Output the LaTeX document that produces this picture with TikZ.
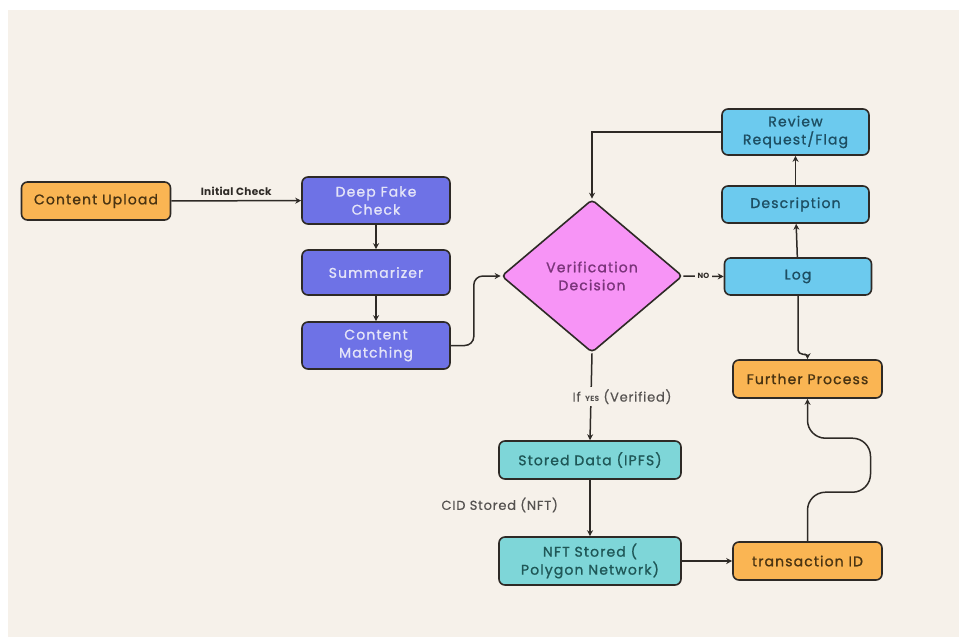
\documentclass[tikz,border=0pt]{standalone}
\usepackage{fontspec}
\setmainfont{Poppins}[LetterSpace=8, FakeBold=1.1]
\newfontfamily\lblfont{Poppins}[LetterSpace=6, FakeBold=0.4]
\newfontfamily\smallbold{Poppins Bold}[LetterSpace=3]
\usetikzlibrary{shapes.geometric,arrows.meta,calc}
\definecolor{bg}{HTML}{F6F1EA}
\definecolor{edge}{HTML}{2E2A26}
\definecolor{orfill}{HTML}{FAB553}
\definecolor{ortext}{HTML}{4A3412}
\definecolor{pufill}{HTML}{6E72E6}
\definecolor{putext}{HTML}{E4E4F8}
\definecolor{pkfill}{HTML}{F794F6}
\definecolor{pktext}{HTML}{7A347A}
\definecolor{blfill}{HTML}{6CCAEE}
\definecolor{bltext}{HTML}{1D4E62}
\definecolor{tefill}{HTML}{7ED6D8}
\definecolor{tetext}{HTML}{1F5757}
\definecolor{lbltext}{HTML}{555250}
\begin{document}
\begin{tikzpicture}[x=1pt,y=1pt,
  box/.style={draw=edge, line width=1.6pt, rounded corners=6pt, align=center, inner sep=0pt,
    font=\fontsize{14}{18}\selectfont},
  orangebox/.style={box, fill=orfill, text=ortext, minimum width=149pt, minimum height=38pt},
  purplebox/.style={box, fill=pufill, text=putext, minimum width=148pt},
  bluebox/.style={box, fill=blfill, text=bltext, minimum width=147pt},
  tealbox/.style={box, fill=tefill, text=tetext, minimum width=182pt},
  decision/.style={diamond, draw=edge, line width=1.6pt, rounded corners=4pt, fill=pkfill, text=pktext,
    align=center, inner sep=0pt, aspect=1.18, minimum width=181pt, minimum height=153pt,
    font=\fontsize{14}{18}\selectfont},
  arr/.style={draw=edge, line width=1.5pt, -{Stealth[length=6pt,width=6pt]}},
  boldlbl/.style={font=\smallbold\fontsize{10.5}{12}\selectfont, text=edge},
  lbl/.style={font=\lblfont\fontsize{13}{15}\selectfont, text=lbltext}
]
\useasboundingbox (0,0) rectangle (959,-637);
\fill[white] (0,0) rectangle (959,-637);
\fill[bg] (8,-10) rectangle (959,-637);

\node[orangebox] (upload) at (96,-201) {Content Upload};
\node[purplebox, minimum height=47pt] (dfc) at (376,-200.5) {Deep Fake\\Check};
\node[purplebox, minimum height=45pt] (sum) at (376,-272.5) {Summarizer};
\node[purplebox, minimum height=47pt] (cm) at (376,-345.5) {Content\\Matching};
\node[decision] (dec) at (592,-276) {Verification\\Decision};
\node[bluebox, minimum height=46pt] (rev) at (795.5,-132) {Review\\Request/Flag};
\node[bluebox, minimum height=37pt] (desc) at (795.5,-204.5) {Description};
\node[bluebox, minimum height=37pt] (log) at (798,-276.5) {Log};
\node[orangebox] (fp) at (807.5,-379) {Further Process};
\node[tealbox, minimum height=38pt] (ipfs) at (590,-460) {Stored Data (IPFS)};
\node[tealbox, minimum height=48pt] (nft) at (590,-561) {NFT Stored (\\Polygon Network)};
\node[orangebox] (tx) at (807.5,-561) {transaction ID};

\draw[arr] (upload) -- node[above=1pt, boldlbl]{Initial Check} (dfc);
\draw[arr] (dfc) -- (sum);
\draw[arr] (sum) -- (cm);
\draw[arr, rounded corners=9pt] (cm.east) -- ++(23,0) |- (dec.west);
\draw[arr] (rev.west) -| (dec.north);
\draw[arr] (dec.east) -- node[fill=bg, inner xsep=3pt, inner ysep=1pt, boldlbl, font=\smallbold\fontsize{7.5}{8}\selectfont]{NO} (log.west);
\draw[arr] (log) -- (desc);
\draw[arr] (desc) -- (rev);
\draw[arr] (log.south) -- ([yshift=9pt]fp.north -| log.south) to[out=-90,in=90] (fp.north);
\draw[arr] (dec.south) -- node[pos=0.5, xshift=31pt, fill=bg, inner sep=2pt, lbl]{If {\smallbold\fontsize{7.5}{8}\selectfont YES} (Verified)} (ipfs.north);
\draw[arr] (ipfs) -- node[left, xshift=-28pt, yshift=3pt, lbl]{CID Stored (NFT)} (nft);
\draw[arr] (nft) -- (tx);
\draw[arr, rounded corners=18pt] (tx.north) -- ++(0,49) -- ++(63,0) -- ++(0,54) -- ++(-63,0) -- (fp.south);
\end{tikzpicture}
\end{document}
